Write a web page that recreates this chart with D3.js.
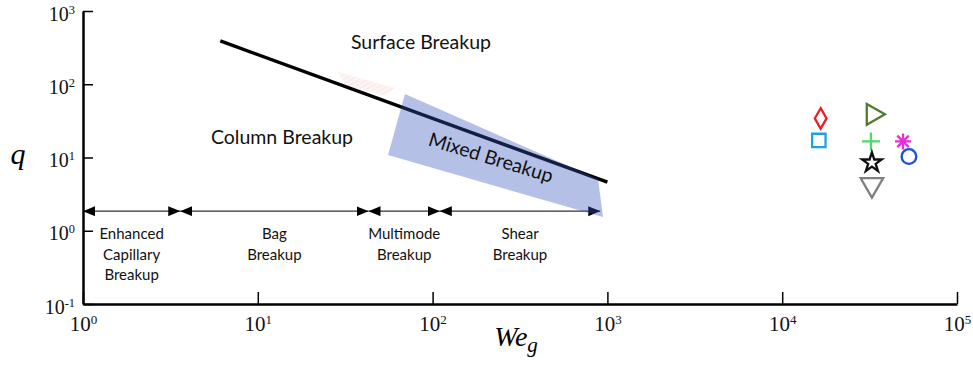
<!DOCTYPE html>
<html>
<head>
<meta charset="utf-8">
<script src="https://cdn.jsdelivr.net/npm/d3@7"></script>
<style>
  body { margin: 0; background: #fff; }
  .serif { font-family: "Liberation Serif", "DejaVu Serif", serif; }
  .sans { font-family: Lato, "Open Sans", sans-serif; }
</style>
</head>
<body>
<div id="chart"></div>
<script>
// axis ticks (exponents of 10)
var xTickExp = [0, 1, 2, 3, 4, 5];
var yTickExp = [-1, 0, 1, 2, 3];

// regime boundaries along We_g (arrow row) and their labels
var regimeBounds = [1, 3.6, 43, 110, 910];
var regimeArrowQ = 1.85;
var regimeLabels = [
  ["Enhanced", "Capillary", "Breakup"],
  ["Bag", "Breakup"],
  ["Multimode", "Breakup"],
  ["Shear", "Breakup"]
];

// column / surface transition line
var lineWe = [6.1, 1000];
var lineQ = [390, 4.6];

// mixed breakup zone
var mixedWe = [69.5, 55.6, 944, 884];
var mixedQ = [73.6, 10.8, 1.54, 5.08];

// faint pink patch
var pinkWe = [28.8, 61, 53.4, 31.5];
var pinkQ = [147, 88.9, 69.2, 97.7];

// experimental points
var pointWe = [16600, 16200, 33000, 32200, 32600, 32600, 49100, 53100];
var pointQ = [34.2, 17.1, 38.8, 16.6, 8.5, 4.27, 16.6, 10.3];
var pointShape = ["diamond", "square", "triRight", "plus", "star", "triDown", "asterisk", "circle"];
var pointColor = ["#e8202a", "#1ba1e6", "#4d7d2e", "#4fd96a", "#111111", "#808080", "#e62fd6", "#1c4fe0"];

var width = 973, height = 365;
var svg = d3.select("#chart").append("svg")
  .attr("width", width).attr("height", height);

var x = d3.scaleLog().domain([1, 1e5]).range([83, 957]);
var y = d3.scaleLog().domain([0.1, 1000]).range([304, 11]);

// pattern for the pink patch
var defs = svg.append("defs");
var pat = defs.append("pattern").attr("id", "hatch")
  .attr("patternUnits", "userSpaceOnUse").attr("width", 4).attr("height", 4)
  .attr("patternTransform", "rotate(60)");
pat.append("rect").attr("width", 4).attr("height", 4).attr("fill", "rgba(252,228,228,0.4)");
pat.append("line").attr("x1", 0).attr("y1", 0).attr("x2", 0).attr("y2", 4)
  .attr("stroke", "rgba(245,185,185,0.35)").attr("stroke-width", 1.5);

defs.append("marker").attr("id", "arrow")
  .attr("viewBox", "0 0 12 10").attr("refX", 12).attr("refY", 5)
  .attr("markerWidth", 12).attr("markerHeight", 10)
  .attr("markerUnits", "userSpaceOnUse")
  .attr("orient", "auto-start-reverse")
  .append("path").attr("d", "M0,0L12,5L0,10Z").attr("fill", "#000");

var poly = d3.line().x(function(d) { return x(d[0]); }).y(function(d) { return y(d[1]); });

svg.append("path")
  .datum(d3.zip(pinkWe, pinkQ))
  .attr("d", function(d) { return poly(d) + "Z"; })
  .attr("fill", "url(#hatch)");

// transition line
svg.append("path")
  .datum(d3.zip(lineWe, lineQ))
  .attr("d", poly)
  .attr("fill", "none").attr("stroke", "#000").attr("stroke-width", 3.5);

// regime arrows
for (var i = 0; i < regimeLabels.length; i++) {
  var a = regimeBounds[i], b = regimeBounds[i + 1];
  svg.append("line")
    .attr("x1", x(a)).attr("x2", x(b))
    .attr("y1", y(regimeArrowQ)).attr("y2", y(regimeArrowQ))
    .attr("stroke", "#333").attr("stroke-width", 1.2)
    .attr("marker-start", "url(#arrow)").attr("marker-end", "url(#arrow)");
  var cx = x(Math.sqrt(a * b));
  var t = svg.append("text").attr("class", "sans")
    .attr("text-anchor", "middle").attr("font-size", 15).attr("fill", "#111");
  regimeLabels[i].forEach(function(s, j) {
    t.append("tspan").attr("x", cx).attr("y", 239 + j * 20.5).text(s);
  });
}

// mixed breakup zone on top (semi transparent)
svg.append("path")
  .datum(d3.zip(mixedWe, mixedQ))
  .attr("d", function(d) { return poly(d) + "Z"; })
  .attr("fill", "rgb(55,85,190)").attr("fill-opacity", 0.37);

// region labels
svg.append("text").attr("class", "sans").attr("x", 421).attr("y", 49)
  .attr("text-anchor", "middle").attr("font-size", 19.5).attr("fill", "#111")
  .text("Surface Breakup");
svg.append("text").attr("class", "sans").attr("x", 282).attr("y", 144)
  .attr("text-anchor", "middle").attr("font-size", 19.5).attr("fill", "#111")
  .text("Column Breakup");
svg.append("text").attr("class", "sans")
  .attr("transform", "translate(489,164) rotate(17)")
  .attr("text-anchor", "middle").attr("font-size", 19.5).attr("fill", "#111")
  .text("Mixed Breakup");

// axes
function supLabels(sel) {
  sel.selectAll(".tick text").each(function(d) {
    var tx = d3.select(this).text("");
    tx.append("tspan").text("10");
    tx.append("tspan").attr("dy", "-0.55em").attr("font-size", "0.62em")
      .text(String(Math.round(Math.log10(d))));
  });
}

var xAxis = svg.append("g")
  .attr("transform", "translate(0,304)")
  .call(d3.axisBottom(x)
    .tickValues(xTickExp.map(function(e) { return Math.pow(10, e); }))
    .tickSizeInner(-12).tickSizeOuter(0).tickPadding(8));
xAxis.attr("class", "serif").attr("font-size", 21).attr("font-family", null);
xAxis.select(".domain").attr("stroke-width", 2.5);
xAxis.selectAll(".tick line").attr("stroke-width", 1.5);
xAxis.selectAll(".tick text").attr("fill", "#111").attr("dy", "0.9em");
supLabels(xAxis);

var yAxis = svg.append("g")
  .attr("transform", "translate(83,0)")
  .call(d3.axisLeft(y)
    .tickValues(yTickExp.map(function(e) { return Math.pow(10, e); }))
    .tickSizeInner(-10).tickSizeOuter(0).tickPadding(8));
yAxis.attr("class", "serif").attr("font-size", 20).attr("font-family", null);
yAxis.select(".domain").attr("stroke-width", 2.5);
yAxis.selectAll(".tick line").attr("stroke-width", 1.5);
yAxis.selectAll(".tick text").attr("fill", "#111").attr("dy", "0.45em");
supLabels(yAxis);

// axis titles
svg.append("text").attr("class", "serif").attr("x", 18).attr("y", 164)
  .attr("text-anchor", "middle").attr("font-style", "italic").attr("font-size", 30)
  .text("q");
var xt = svg.append("text").attr("class", "serif").attr("x", 516).attr("y", 346)
  .attr("text-anchor", "middle").attr("font-style", "italic").attr("font-size", 28);
xt.append("tspan").text("We");
xt.append("tspan").attr("dy", "0.3em").attr("font-size", "0.75em").text("g");

// marker shapes
function shapePath(s) {
  if (s === "diamond") return d3.symbol(d3.symbolDiamond, 120)();
  if (s === "square") return d3.symbol(d3.symbolSquare, 180)();
  if (s === "triRight") return d3.symbol(d3.symbolTriangle, 190)();
  if (s === "triDown") return d3.symbol(d3.symbolTriangle, 220)();
  if (s === "star") return d3.symbol(d3.symbolStar, 120)();
  if (s === "circle") return d3.symbol(d3.symbolCircle, 170)();
  if (s === "plus") return "M-9,0H9M0,-9V9";
  if (s === "asterisk") return "M-8,0H8M0,-8V8M-5.7,-5.7L5.7,5.7M-5.7,5.7L5.7,-5.7";
}
function shapeRot(s) {
  if (s === "triRight") return 90;
  if (s === "triDown") return 180;
  return 0;
}

svg.append("g").selectAll("path")
  .data(d3.range(pointWe.length))
  .enter().append("path")
  .attr("d", function(i) { return shapePath(pointShape[i]); })
  .attr("transform", function(i) {
    return "translate(" + x(pointWe[i]) + "," + y(pointQ[i]) + ") rotate(" + shapeRot(pointShape[i]) + ")";
  })
  .attr("fill", "none")
  .attr("stroke", function(i) { return pointColor[i]; })
  .attr("stroke-width", 2.3);
</script>
</body>
</html>
